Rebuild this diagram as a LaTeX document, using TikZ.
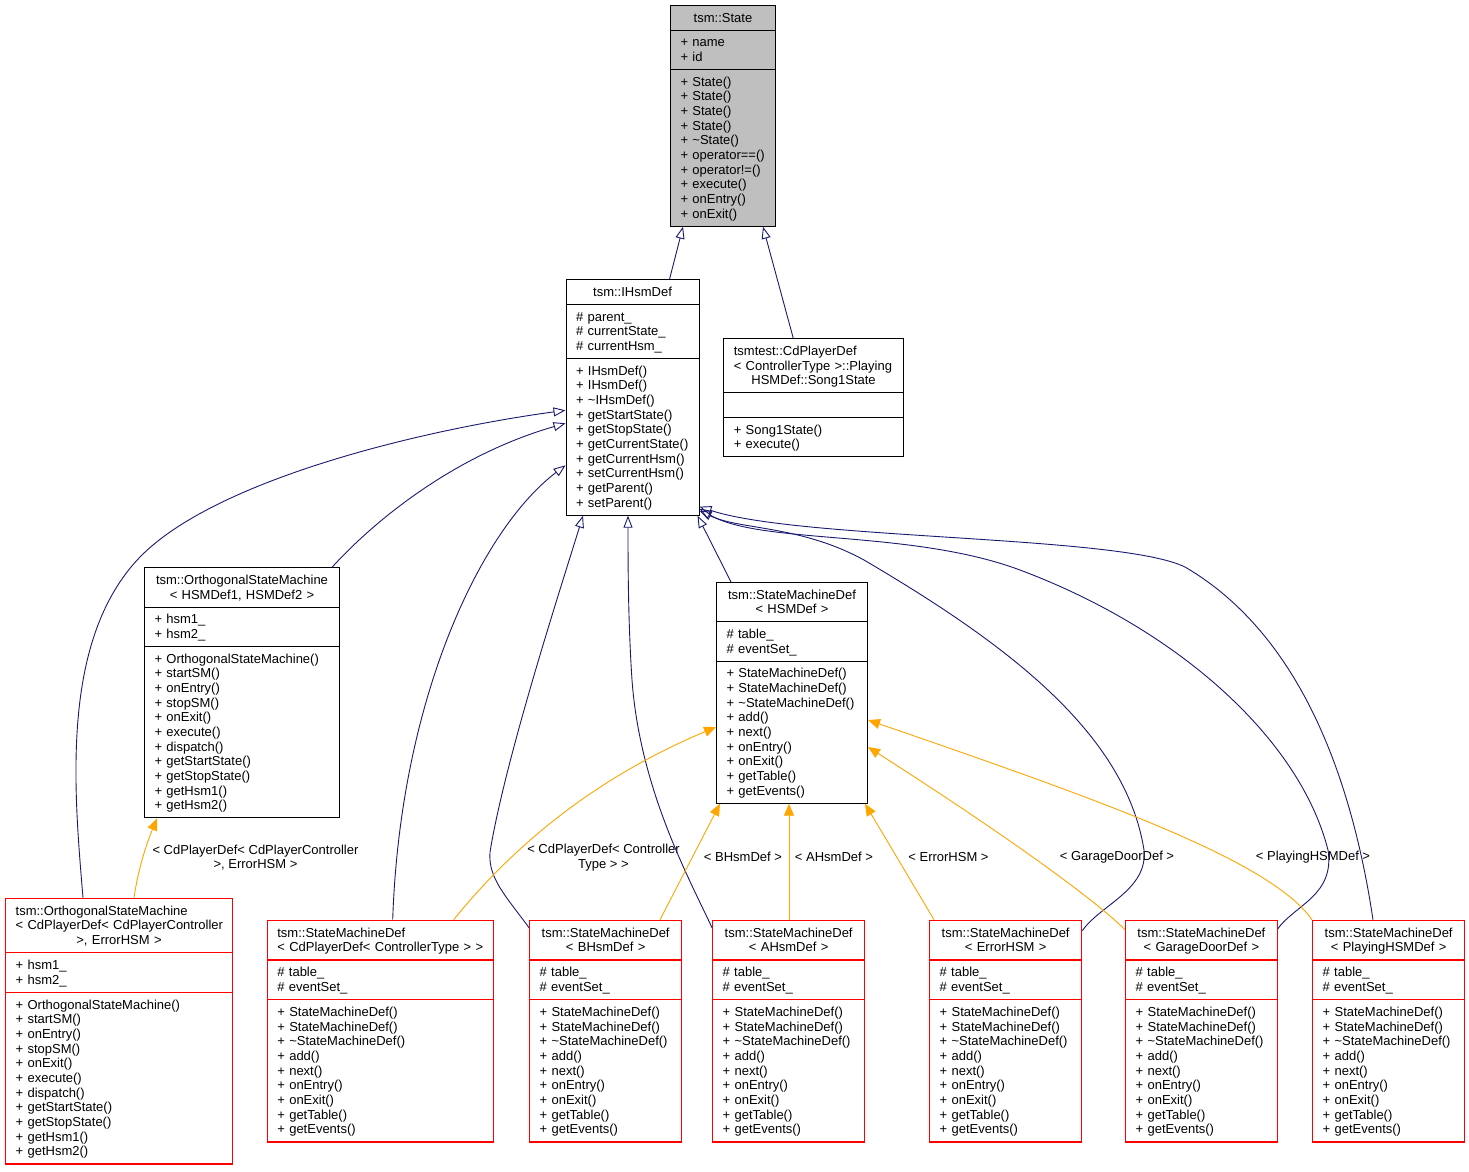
\documentclass[tikz,border=0pt]{standalone}
\usepackage{fontspec}
\setmainfont{Liberation Sans}
\usetikzlibrary{arrows.meta,shapes.multipart}

\definecolor{navyblue}{HTML}{191970}
\definecolor{tplorange}{HTML}{FFA500}
\definecolor{grey75}{HTML}{BFBFBF}

\newcommand{\umlfont}{\fontsize{13}{14.67}\selectfont}
\newcommand{\umlstrut}{\rule[-3.1pt]{0pt}{14.67pt}}
\newcommand{\pub}[1]{\umlstrut+~#1}
\newcommand{\pro}[1]{\umlstrut\#~#1}
\newcommand{\lline}[1]{\makebox[\linewidth][l]{\umlstrut #1}}
\newcommand{\mline}[1]{\makebox[\linewidth]{\umlstrut #1}}
\newcommand{\smdattrs}{\pro{table\_}\\\pro{eventSet\_}}
\newcommand{\smdops}{\pub{StateMachineDef()}\\\pub{StateMachineDef()}\\\pub{\textasciitilde StateMachineDef()}\\\pub{add()}\\\pub{next()}\\\pub{onEntry()}\\\pub{onExit()}\\\pub{getTable()}\\\pub{getEvents()}}
\newcommand{\osmattrs}{\pub{hsm1\_}\\\pub{hsm2\_}}
\newcommand{\osmops}{\pub{OrthogonalStateMachine()}\\\pub{startSM()}\\\pub{onEntry()}\\\pub{stopSM()}\\\pub{onExit()}\\\pub{execute()}\\\pub{dispatch()}\\\pub{getStartState()}\\\pub{getStopState()}\\\pub{getHsm1()}\\\pub{getHsm2()}}

\tikzset{
  classbox/.style={rectangle split, rectangle split parts=3, draw=black, line width=1pt,
    fill=white, inner xsep=10pt, inner ysep=4.5pt, anchor=north west, font=\umlfont},
  rootbox/.style={classbox, fill=grey75},
  redbox/.style={classbox, draw=red, line width=1.3pt},
  inh/.style={draw=navyblue, line width=0.9pt, -{Triangle[open,length=12pt,width=9pt]}},
  tpl/.style={draw=tplorange, line width=0.9pt, -{Triangle[length=12pt,width=10pt]}},
  lbl/.style={font=\umlfont, align=center, inner sep=0pt}
}

\begin{document}
\begin{tikzpicture}[x=1pt,y=-1pt]
\useasboundingbox (0,0) rectangle (1469,1171);

\node[rootbox, text width=85pt] (state) at (670,5)
  {\mline{tsm::State}
   \nodepart{two}\pub{name}\\\pub{id}
   \nodepart{three}\pub{State()}\\\pub{State()}\\\pub{State()}\\\pub{State()}\\\pub{\textasciitilde State()}\\\pub{operator==()}\\\pub{operator!=()}\\\pub{execute()}\\\pub{onEntry()}\\\pub{onExit()}};

\node[classbox, text width=113pt] (ihsm) at (565.5,279.3)
  {\mline{tsm::IHsmDef}
   \nodepart{two}\pro{parent\_}\\\pro{currentState\_}\\\pro{currentHsm\_}
   \nodepart{three}\pub{IHsmDef()}\\\pub{IHsmDef()}\\\pub{\textasciitilde IHsmDef()}\\\pub{getStartState()}\\\pub{getStopState()}\\\pub{getCurrentState()}\\\pub{getCurrentHsm()}\\\pub{setCurrentHsm()}\\\pub{getParent()}\\\pub{setParent()}};

\node[classbox, text width=159.5pt] (song) at (723.3,338.3)
  {\lline{tsmtest::CdPlayerDef}\\\lline{< ControllerType >::Playing}\\\mline{HSMDef::Song1State}
   \nodepart{two}\umlstrut
   \nodepart{three}\pub{Song1State()}\\\pub{execute()}};

\node[classbox, text width=175pt] (osmhsm) at (144,567.3)
  {\mline{tsm::OrthogonalStateMachine}\\\mline{< HSMDef1, HSMDef2 >}
   \nodepart{two}\osmattrs
   \nodepart{three}\osmops};

\node[classbox, text width=131pt] (smdhsm) at (716,582)
  {\mline{tsm::StateMachineDef}\\\mline{< HSMDef >}
   \nodepart{two}\smdattrs
   \nodepart{three}\smdops};

\node[redbox, text width=206.7pt] (osmcd) at (5,897.7)
  {\lline{tsm::OrthogonalStateMachine}\\\lline{< CdPlayerDef< CdPlayerController}\\\mline{>, ErrorHSM >}
   \nodepart{two}\osmattrs
   \nodepart{three}\osmops};

\node[redbox, text width=206pt] (smdcd) at (266.7,919.7)
  {\lline{tsm::StateMachineDef}\\\lline{< CdPlayerDef< ControllerType > >}
   \nodepart{two}\smdattrs
   \nodepart{three}\smdops};

\node[redbox, text width=132pt] (smdb) at (529,919.7)
  {\mline{tsm::StateMachineDef}\\\mline{< BHsmDef >}
   \nodepart{two}\smdattrs
   \nodepart{three}\smdops};

\node[redbox, text width=132pt] (smda) at (712,919.7)
  {\mline{tsm::StateMachineDef}\\\mline{< AHsmDef >}
   \nodepart{two}\smdattrs
   \nodepart{three}\smdops};

\node[redbox, text width=132pt] (smderr) at (929,919.7)
  {\mline{tsm::StateMachineDef}\\\mline{< ErrorHSM >}
   \nodepart{two}\smdattrs
   \nodepart{three}\smdops};

\node[redbox, text width=131.5pt] (smdgar) at (1125,919.7)
  {\mline{tsm::StateMachineDef}\\\mline{< GarageDoorDef >}
   \nodepart{two}\smdattrs
   \nodepart{three}\smdops};

\node[redbox, text width=132pt] (smdplay) at (1312,919.7)
  {\mline{tsm::StateMachineDef}\\\mline{< PlayingHSMDef >}
   \nodepart{two}\smdattrs
   \nodepart{three}\smdops};

\node[lbl] (lblosm) at (255.5,857.5) {< CdPlayerDef< CdPlayerController\\>, ErrorHSM >};
\node[lbl] (lblcd) at (603.5,857.5) {< CdPlayerDef< Controller\\Type > >};
\node[lbl] (lblb) at (743,857) {< BHsmDef >};
\node[lbl] (lbla) at (834,857) {< AHsmDef >};
\node[lbl] (lblerr) at (948.5,857) {< ErrorHSM >};
\node[lbl] (lblgar) at (1117,857) {< GarageDoorDef >};
\node[lbl] (lblplay) at (1313,857) {< PlayingHSMDef >};

\draw[inh] ([xshift=104pt]ihsm.north west) -- ([xshift=13pt]state.south west);
\draw[inh] ([xshift=70pt]song.north west) -- ([xshift=-13pt]state.south east);
\draw[inh] ([xshift=-8pt]osmhsm.north east) .. controls (375,520) and (455,455) .. ([yshift=-144pt]ihsm.north west);
\draw[inh] ([xshift=78pt]osmcd.north west) .. controls (74,790) and (60,640) .. (140,557)
  .. controls (215,480) and (420,430) .. ([yshift=-131pt]ihsm.north west);
\draw[inh] ([xshift=126pt]smdcd.north west) .. controls (400,700) and (480,530) .. ([yshift=-186pt]ihsm.north west);
\draw[inh] ([yshift=-8pt]smdb.north west) .. controls (505,895) and (488,878) .. (490,852)
  .. controls (505,760) and (560,590) .. ([xshift=17.5pt]ihsm.south west);
\draw[inh] ([yshift=-8pt]smda.north west) .. controls (690,880) and (640,790) .. (632,680)
  .. controls (628,620) and (628,560) .. ([xshift=62.5pt]ihsm.south west);
\draw[inh] ([xshift=15pt]smdhsm.north west) -- ([xshift=-2pt]ihsm.south east);
\draw[inh] ([yshift=-11pt]smderr.north east) .. controls (1100,905) and (1148,890) .. (1144,850)
  .. controls (1125,730) and (1000,640) .. (864,560) .. controls (800,525) and (740,530) .. ([yshift=5pt]ihsm.south east);
\draw[inh] ([yshift=-9pt]smdgar.north east) .. controls (1295,905) and (1335,895) .. (1328,850)
  .. controls (1300,740) and (1180,630) .. (1020,570) .. controls (910,529) and (760,545) .. ([yshift=7pt]ihsm.south east);
\draw[inh] ([xshift=61pt]smdplay.north west) .. controls (1355,800) and (1310,640) .. (1185,567)
  .. controls (1120,535) and (800,540) .. ([yshift=9pt]ihsm.south east);

\draw[tpl] ([xshift=129pt]osmcd.north west) .. controls (138,870) and (146,845) .. ([xshift=13pt]osmhsm.south west);
\draw[tpl] ([xshift=187pt]smdcd.north west) .. controls (510,850) and (590,780) .. ([yshift=-145pt]smdhsm.north west);
\draw[tpl] ([xshift=131pt]smdb.north west) -- ([xshift=4pt]smdhsm.south west);
\draw[tpl] ([xshift=77pt]smda.north west) -- ([xshift=73pt]smdhsm.south west);
\draw[tpl] ([xshift=5pt]smderr.north west) -- ([xshift=-3pt]smdhsm.south east);
\draw[tpl] ([yshift=-10pt]smdgar.north west) .. controls (1090,895) and (990,825) .. ([yshift=-165pt]smdhsm.north east);
\draw[tpl] (smdplay.north west) .. controls (1270,860) and (1100,800) .. ([yshift=-138pt]smdhsm.north east);
\end{tikzpicture}
\end{document}
